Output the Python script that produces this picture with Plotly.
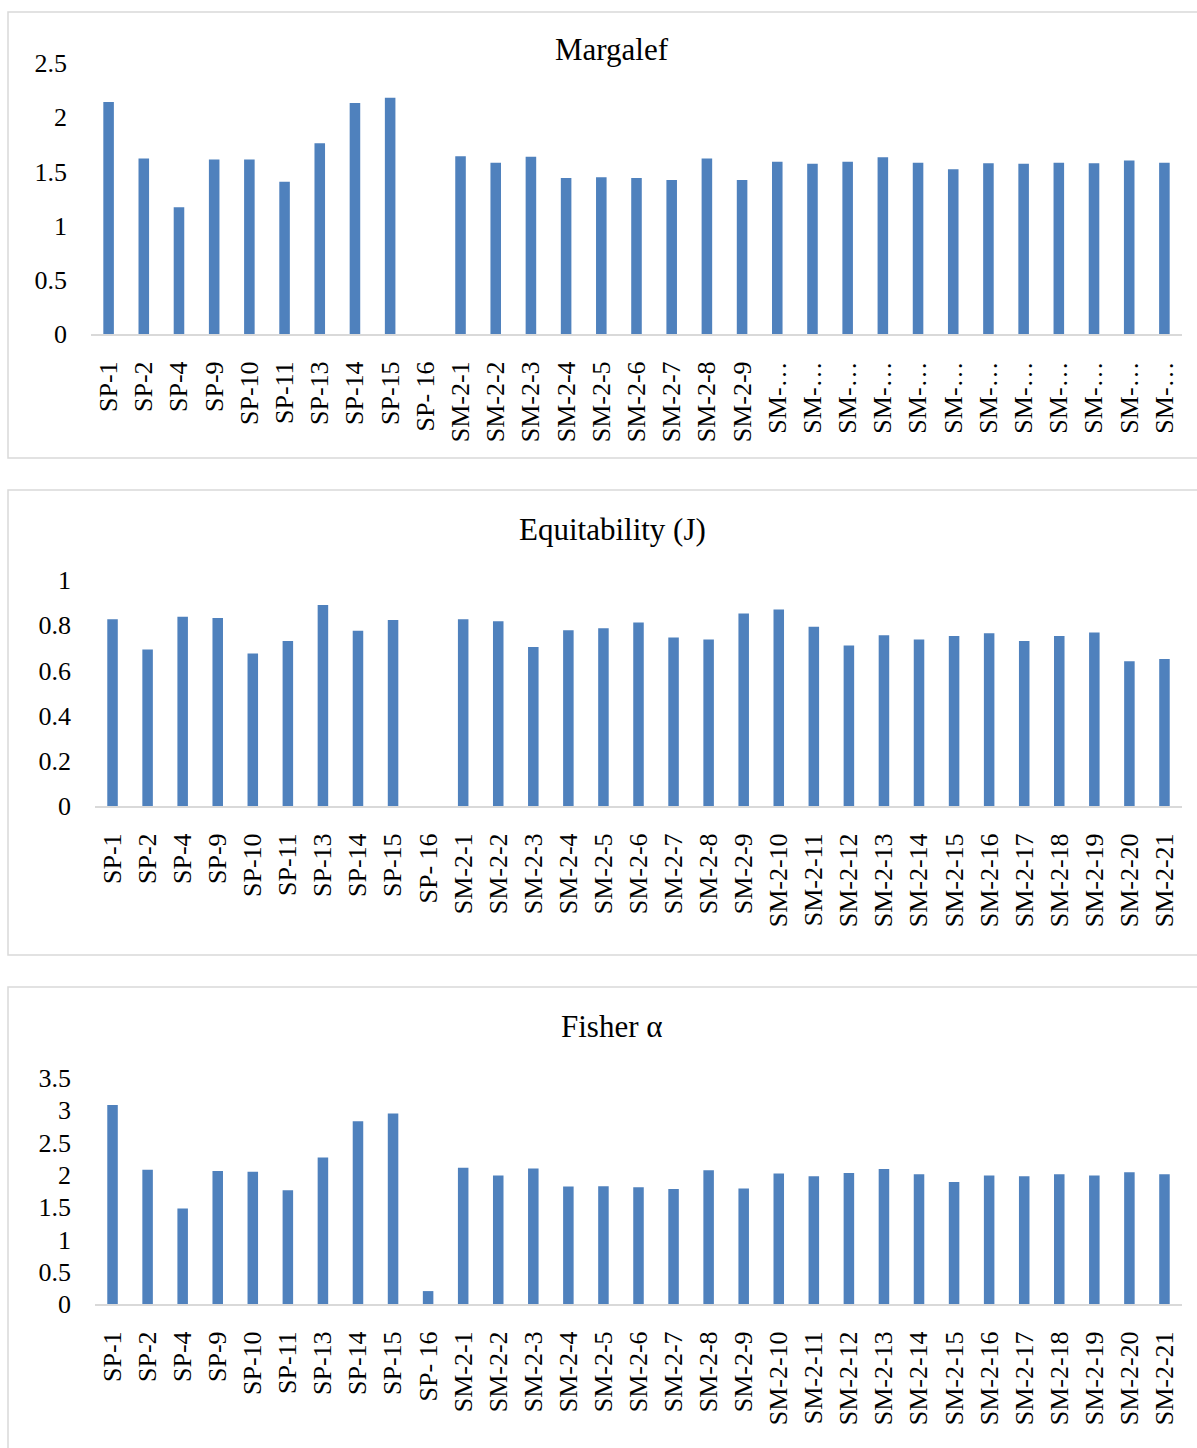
import plotly.graph_objects as go

W, H = 1197, 1448

categories = ["SP-1", "SP-2", "SP-4", "SP-9", "SP-10", "SP-11", "SP-13", "SP-14", "SP-15", "SP- 16",
              "SM-2-1", "SM-2-2", "SM-2-3", "SM-2-4", "SM-2-5", "SM-2-6", "SM-2-7", "SM-2-8", "SM-2-9",
              "SM-2-10", "SM-2-11", "SM-2-12", "SM-2-13", "SM-2-14", "SM-2-15", "SM-2-16", "SM-2-17",
              "SM-2-18", "SM-2-19", "SM-2-20", "SM-2-21"]

# Margalef chart shows truncated labels for the last twelve samples
margalef_ticktext = ["SP-1", "SP-2", "SP-4", "SP-9", "SP-10", "SP-11", "SP-13", "SP-14", "SP-15", "SP- 16",
                     "SM-2-1", "SM-2-2", "SM-2-3", "SM-2-4", "SM-2-5", "SM-2-6", "SM-2-7", "SM-2-8", "SM-2-9",
                     "SM-…", "SM-…", "SM-…", "SM-…", "SM-…", "SM-…", "SM-…", "SM-…",
                     "SM-…", "SM-…", "SM-…", "SM-…"]

margalef = [2.14, 1.62, 1.17, 1.61, 1.61, 1.405, 1.76, 2.13, 2.18, 0,
            1.64, 1.58, 1.635, 1.44, 1.445, 1.44, 1.42, 1.62, 1.42,
            1.59, 1.57, 1.59, 1.63, 1.58, 1.52, 1.575, 1.57, 1.58, 1.575, 1.60, 1.58]

equitability = [0.826, 0.693, 0.837, 0.832, 0.675, 0.730, 0.889, 0.775, 0.823, 0,
                0.826, 0.817, 0.704, 0.778, 0.787, 0.812, 0.746, 0.737, 0.852,
                0.870, 0.793, 0.710, 0.755, 0.737, 0.752, 0.764, 0.730, 0.752, 0.768, 0.640, 0.650]

fisher = [3.08, 2.08, 1.48, 2.06, 2.05, 1.76, 2.27, 2.83, 2.95, 0.20,
          2.11, 1.99, 2.10, 1.82, 1.825, 1.81, 1.78, 2.07, 1.79,
          2.02, 1.98, 2.03, 2.09, 2.01, 1.89, 1.99, 1.98, 2.01, 1.99, 2.04, 2.01]

titles = ["Margalef", "Equitability (J)", "Fisher α"]
y_ranges = [[0, 2.5], [0, 1.0], [0, 3.5]]
y_dticks = [0.5, 0.2, 0.5]

BAR = "#4f81bd"
GRID = "#d9d9d9"
FONT = "Liberation Serif"


def px_x(p):
    return p / W


def px_y(p):
    return 1 - p / H


# pixel geometry of each panel: (x_left, x_right, y_top, y_bottom)
plot_px = [(91, 1182, 63, 334), (95, 1182, 580, 806), (95, 1182, 1078, 1304)]
box_px = [(8, 12, 1205, 458), (8, 490, 1205, 955), (8, 987, 1205, 1460)]
title_y_px = [50, 529, 1026]

fig = go.Figure()
series = [margalef, equitability, fisher]
for i, vals in enumerate(series):
    suffix = "" if i == 0 else str(i + 1)
    fig.add_trace(go.Bar(x=categories, y=vals, marker=dict(color=BAR, line=dict(width=0)),
                         xaxis="x" + suffix, yaxis="y" + suffix, showlegend=False))
    xl, xr, yt, yb = plot_px[i]
    ticktext = margalef_ticktext if i == 0 else categories
    fig.update_layout(**{
        "xaxis" + suffix: dict(
            type="category", domain=[px_x(xl), px_x(xr)], anchor="y" + suffix,
            range=[-0.5, len(categories) - 0.5], automargin=False,
            tickvals=categories, ticktext=ticktext, tickangle=-90,
            tickfont=dict(family=FONT, size=26, color="black"),
            showline=True, linecolor=GRID, linewidth=2, ticks="", showgrid=False,
            zeroline=False, ticklabelstandoff=15, fixedrange=True),
        "yaxis" + suffix: dict(
            domain=[px_y(yb), px_y(yt)], anchor="x" + suffix, automargin=False,
            range=y_ranges[i], dtick=y_dticks[i], showgrid=False, zeroline=False,
            showline=False, ticks="", tickfont=dict(family=FONT, size=26, color="black"),
            ticklabelstandoff=23, fixedrange=True),
    })
    bx0, by0, bx1, by1 = box_px[i]
    fig.add_shape(type="rect", xref="paper", yref="paper",
                  x0=px_x(bx0), x1=px_x(bx1), y0=px_y(by1), y1=px_y(by0),
                  line=dict(color=GRID, width=1.5), fillcolor="rgba(0,0,0,0)", layer="below")
    fig.add_annotation(text=titles[i], xref="paper", yref="paper", x=px_x(612), y=px_y(title_y_px[i]),
                       xanchor="center", yanchor="middle", showarrow=False,
                       font=dict(family=FONT, size=31, color="black"))

fig.update_layout(template="none", width=W, height=H, margin=dict(l=0, r=0, t=0, b=0, pad=0),
                  paper_bgcolor="white", plot_bgcolor="white", bargap=0.7,
                  font=dict(family=FONT, color="black"))

fig.write_html("out.html", config={"displayModeBar": False},
               post_script="document.body.style.margin='0';document.body.style.overflow='hidden';")
